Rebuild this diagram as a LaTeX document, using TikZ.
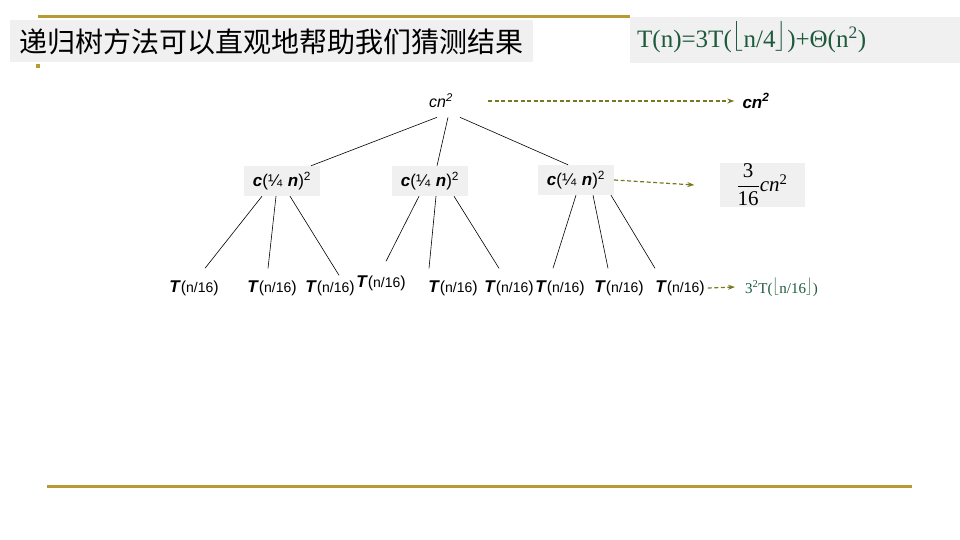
\documentclass[tikz,border=0pt]{standalone}
\usepackage{amsmath}
\usepackage{fontspec}
\setmainfont{Liberation Serif}
\setsansfont{Liberation Sans}
\newfontfamily\cjk{Noto Sans CJK SC}
\usetikzlibrary{arrows.meta}
\definecolor{gold}{RGB}{184,154,50}
\definecolor{boxgray}{RGB}{240,240,240}
\definecolor{eqgreen}{RGB}{30,90,60}
\definecolor{olive}{RGB}{120,120,30}
\tikzset{
  goldline/.style={draw=gold,line width=3pt},
  graybox/.style={fill=boxgray,draw=none},
  lvlone/.style={graybox,minimum width=76pt,minimum height=30pt,inner sep=0pt,font=\sffamily\fontsize{17}{17}\selectfont},
  leaf/.style={inner sep=0pt,font=\sffamily\fontsize{16}{16}\selectfont},
  edge/.style={draw=black,line width=0.6pt},
  guide/.style={draw=olive,line width=1.2pt,dash pattern=on 4pt off 2.5pt,-{Stealth[length=7pt,width=5pt]}},
}
\newcommand{\quarter}{\textbf{\textit{c}}(¼\,\,\textbf{\textit{n}})\textsuperscript{2}}
\newcommand{\tleaf}{\textbf{\textit{\fontsize{17}{17}\selectfont T}}({\fontsize{14}{14}\selectfont n/16})}
\newcommand{\lfl}{\raisebox{0.22em}{$\big\lfloor$}}
\newcommand{\rfl}{\raisebox{0.22em}{$\big\rfloor$}}
\begin{document}
\begin{tikzpicture}[x=1pt,y=-1pt]
\useasboundingbox (0,0) rectangle (960,540);
% frame
\fill[graybox] (10,20) rectangle (533,62);
\fill[graybox] (630,17) rectangle (960,63);
\draw[goldline] (38,17) -- (630,17);
\draw[goldline] (47,486) -- (912,486);
\fill[gold] (36,64) rectangle (40,68);
\node[anchor=west,inner sep=0pt,font=\cjk\fontsize{28}{28}\selectfont] (title) at (19,42) {递归树方法可以直观地帮助我们猜测结果};
\node[anchor=base west,inner sep=0pt,text=eqgreen,font=\fontsize{25}{25}\selectfont] (eq) at (637,48) {T(n)=3T(\lfl n/4\rfl)+Θ(n\textsuperscript{2})};
% tree
\node[inner sep=0pt,font=\sffamily\itshape\fontsize{16}{16}\selectfont] (root) at (441,101) {cn\textsuperscript{2}};
\node[lvlone] (a1) at (282,181) {\quarter};
\node[lvlone] (a2) at (430,181) {\quarter};
\node[lvlone] (a3) at (576,180) {\quarter};
\node[leaf] (l1) at (194,288) {\tleaf};
\node[leaf] (l2) at (272,288) {\tleaf};
\node[leaf] (l3) at (330,288) {\tleaf};
\node[leaf] (l4) at (381,283) {\tleaf};
\node[leaf] (l5) at (453,288) {\tleaf};
\node[leaf] (l6) at (509,288) {\tleaf};
\node[leaf] (l7) at (560,288) {\tleaf};
\node[leaf] (l8) at (619,288) {\tleaf};
\node[leaf] (l9) at (680,288) {\tleaf};
% root edges
\draw[edge] ([xshift=-4pt,yshift=-9pt]root.south) -- ([xshift=29pt]a1.north);
\draw[edge] ([xshift=7pt,yshift=-9pt]root.south) -- ([xshift=7pt]a2.north);
\draw[edge] ([xshift=19pt,yshift=-9pt]root.south) -- ([xshift=-8pt]a3.north);
% level 2 edges
\draw[edge] ([xshift=-20pt]a1.south) -- ([xshift=11pt,yshift=12pt]l1.north);
\draw[edge] ([xshift=-6pt]a1.south) -- ([xshift=-4pt,yshift=12pt]l2.north);
\draw[edge] ([xshift=8pt]a1.south) -- ([xshift=9pt,yshift=5pt]l3.north);
\draw[edge] ([xshift=-11pt]a2.south) -- ([xshift=5pt,yshift=14pt]l4.north);
\draw[edge] ([xshift=6pt]a2.south) -- ([xshift=-24pt,yshift=12pt]l5.north);
\draw[edge] ([xshift=24pt]a2.south) -- ([xshift=-10pt,yshift=12pt]l6.north);
\draw[edge] ([xshift=0pt]a3.south) -- ([xshift=-7pt,yshift=12pt]l7.north);
\draw[edge] ([xshift=17pt]a3.south) -- ([xshift=-11pt,yshift=12pt]l8.north);
\draw[edge] ([xshift=35pt]a3.south) -- ([xshift=-25pt,yshift=12pt]l9.north);
% right column
\node[inner sep=0pt,font=\sffamily\bfseries\itshape\fontsize{17}{17}\selectfont] (rc) at (756,101) {cn\textsuperscript{2}};
\node[graybox,minimum width=85pt,minimum height=43pt,inner sep=0pt,font=\fontsize{21}{21}\selectfont] (frac) at (762,185) {$\dfrac{\text{3}}{\text{16}}$\textit{cn}\textsuperscript{2}};
\node[anchor=west,inner sep=0pt,text=eqgreen,font=\fontsize{15}{15}\selectfont] (sum) at (745,287) {3\textsuperscript{2}T(\lfl n/16\rfl)};
\draw[guide] ([xshift=35pt]root.east) -- ([xshift=-8pt]rc.west);
\draw[guide] (a3.east) -- ([xshift=-25pt]frac.west);
\draw[guide] ([xshift=3pt]l9.east) -- ([xshift=-10pt]sum.west);
\end{tikzpicture}
\end{document}
